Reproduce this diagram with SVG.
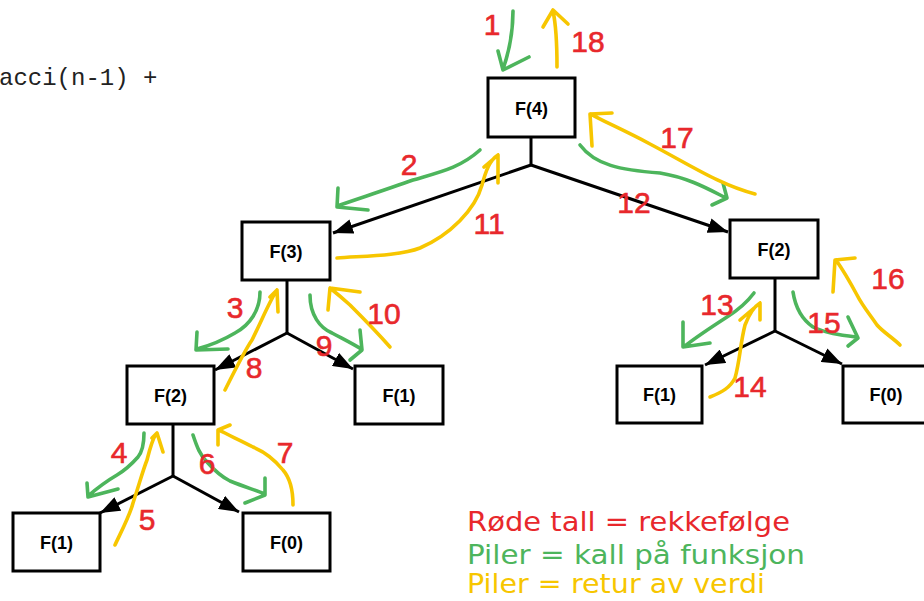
<svg xmlns="http://www.w3.org/2000/svg" width="924" height="601" viewBox="0 0 924 601">
  <style>
    .box { fill: #fff; stroke: #000; stroke-width: 3; }
    .lbl { font-family: "Liberation Sans", Arial, sans-serif; font-weight: bold; font-size: 18px; text-anchor: middle; fill: #000; }
    .edge { stroke: #000; stroke-width: 3; fill: none; }
    .call { stroke: #4db55c; stroke-width: 3.6; fill: none; stroke-linecap: round; stroke-linejoin: round; }
    .ret { stroke: #f7c600; stroke-width: 3.6; fill: none; stroke-linecap: round; stroke-linejoin: round; }
    .num { font-family: "Liberation Sans", Arial, sans-serif; font-size: 30px; fill: #e8282c; stroke: #e8282c; stroke-width: 0.6; text-anchor: middle; }
    .leg { font-family: "DejaVu Sans", Verdana, sans-serif; font-size: 27px; }
    .code { font-family: "Liberation Mono", "Courier New", monospace; font-size: 24px; fill: #222; }
  </style>
  <defs>
    <marker id="ah" viewBox="0 0 20 15" refX="20" refY="7.5" markerWidth="20" markerHeight="15" markerUnits="userSpaceOnUse" orient="auto">
      <path d="M0,0 L20,7.5 L0,15 z" fill="#000"/>
    </marker>
  </defs>

  <rect width="924" height="601" fill="#fff"/>

  <!-- code fragment -->
  <text class="code" x="-1" y="85">acci(n-1) +</text>

  <!-- tree edges -->
  <g id="edges">
    <path class="edge" d="M531,137 V165"/>
    <path class="edge" d="M531,165 L333,233" marker-end="url(#ah)"/>
    <path class="edge" d="M531,165 L728,232" marker-end="url(#ah)"/>
    <path class="edge" d="M287,280 V333"/>
    <path class="edge" d="M287,333 L215,370" marker-end="url(#ah)"/>
    <path class="edge" d="M287,333 L353,369" marker-end="url(#ah)"/>
    <path class="edge" d="M173,424 V476"/>
    <path class="edge" d="M173,476 L100,513" marker-end="url(#ah)"/>
    <path class="edge" d="M173,476 L239,512" marker-end="url(#ah)"/>
    <path class="edge" d="M775,278 V331"/>
    <path class="edge" d="M775,331 L705,365" marker-end="url(#ah)"/>
    <path class="edge" d="M775,331 L842,364" marker-end="url(#ah)"/>
  </g>

  <!-- nodes -->
  <g id="f4"><rect class="box" x="488" y="78" width="87" height="59"/><text class="lbl" x="531.5" y="115">F(4)</text></g>
  <g id="f3"><rect class="box" x="242" y="222" width="88" height="58"/><text class="lbl" x="286" y="258">F(3)</text></g>
  <g id="f2r"><rect class="box" x="730" y="220" width="88" height="58"/><text class="lbl" x="774" y="256">F(2)</text></g>
  <g id="f2l"><rect class="box" x="127" y="366" width="87" height="58"/><text class="lbl" x="170.5" y="402">F(2)</text></g>
  <g id="f1m"><rect class="box" x="355" y="366" width="88" height="58"/><text class="lbl" x="399" y="402">F(1)</text></g>
  <g id="f1r"><rect class="box" x="617" y="366" width="85" height="57"/><text class="lbl" x="659.5" y="401">F(1)</text></g>
  <g id="f0r"><rect class="box" x="843" y="366" width="88" height="57"/><text class="lbl" x="886" y="401">F(0)</text></g>
  <g id="f1l"><rect class="box" x="13" y="513" width="87" height="58"/><text class="lbl" x="56.5" y="549">F(1)</text></g>
  <g id="f0l"><rect class="box" x="243" y="513" width="87" height="58"/><text class="lbl" x="286.5" y="549">F(0)</text></g>

  <!-- call arrows (green) -->
  <g id="calls">
    <path class="call" d="M513,11 C513,35 509,52 503,69 M498,51 L503,70 L529,57"/>
    <path class="call" d="M480,150 C460,168 440,172 413,180 C385,190 360,198 337,206 M338,188 L337,207 L368,210"/>
    <path class="call" d="M260,292 C260,310 250,325 235,333 C220,342 208,346 197,349 M197,332 L196,350 L228,349"/>
    <path class="call" d="M144,433 C144,445 142,452 138,457 C130,466 122,472 117,475 C105,482 95,490 88,496 M87,483 L88,497 L118,489"/>
    <path class="call" d="M193,435 C197,447 200,455 207,462 C214,470 220,476 230,481 C245,487 255,490 265,494 M265,478 L265,495 L245,503"/>
    <path class="call" d="M310,295 C310,315 320,328 332,333 C345,340 355,345 361,349 M360,330 L362,350 L350,360"/>
    <path class="call" d="M580,145 C595,165 620,170 660,173 C690,178 710,190 726,198 M723,183 L727,198 L712,205"/>
    <path class="call" d="M754,293 C745,305 735,312 727,317 C710,328 695,338 685,346 M683,322 L683,347 L710,343"/>
    <path class="call" d="M793,292 C795,305 800,318 813,327 C825,333 840,335 856,337 M848,317 L858,338 L848,346"/>
  </g>

  <!-- return arrows (yellow) -->
  <g id="returns">
    <path class="ret" d="M557,67 C557,45 556,25 553,11 M543,27 L553,10 L568,24"/>
    <path class="ret" d="M755,194 C720,185 690,165 650,144 C620,128 600,120 591,114 M592,146 L590,114 L612,113"/>
    <path class="ret" d="M337,258 C360,256 400,256 420,248 C450,235 475,210 482,185 C486,170 490,160 498,155 M484,167 L498,155 L498,183"/>
    <path class="ret" d="M225,390 C235,370 245,350 252,340 C262,320 270,300 277,290 M270,297 L277,290 L278,312"/>
    <path class="ret" d="M390,347 C375,330 360,315 350,305 C340,296 335,292 330,288 M328,310 L330,288 L360,292"/>
    <path class="ret" d="M115,545 C122,530 130,515 133,503 C139,485 143,470 147,460 C150,448 152,440 156,434 M152,438 L157,433 L163,452"/>
    <path class="ret" d="M293,505 C293,490 290,478 283,470 C275,460 265,452 253,447 C240,440 228,435 219,430 M218,445 L218,430 L230,425"/>
    <path class="ret" d="M710,397 C722,392 730,388 735,378 C740,360 740,345 745,325 C750,312 755,306 760,303 M740,320 L760,303 L760,320"/>
    <path class="ret" d="M900,345 C893,338 883,332 877,325 C868,312 862,305 857,295 C850,282 843,270 836,260 M833,292 L835,260 L855,258"/>
  </g>

  <!-- order numbers -->
  <g id="order">
    <text class="num" x="492" y="35">1</text>
    <text class="num" x="409" y="175">2</text>
    <text class="num" x="235" y="318">3</text>
    <text class="num" x="119" y="463">4</text>
    <text class="num" x="147" y="530">5</text>
    <text class="num" x="207" y="474">6</text>
    <text class="num" x="285" y="463">7</text>
    <text class="num" x="254" y="378">8</text>
    <text class="num" x="324" y="356">9</text>
    <text class="num" x="384" y="324">10</text>
    <text class="num" x="489" y="234">11</text>
    <text class="num" x="634" y="213">12</text>
    <text class="num" x="717" y="315">13</text>
    <text class="num" x="750" y="397">14</text>
    <text class="num" x="824" y="333">15</text>
    <text class="num" x="888" y="289">16</text>
    <text class="num" x="677" y="148">17</text>
    <text class="num" x="588" y="52">18</text>
  </g>

  <!-- legend -->
  <g id="legend">
    <text class="leg" x="467" y="531" fill="#e8282c" textLength="323" lengthAdjust="spacingAndGlyphs">Røde tall = rekkefølge</text>
    <text class="leg" x="467" y="564" fill="#4db55c" textLength="338" lengthAdjust="spacingAndGlyphs">Piler = kall på funksjon</text>
    <text class="leg" x="467" y="593" fill="#f7c600" textLength="298" lengthAdjust="spacingAndGlyphs">Piler = retur av verdi</text>
  </g>
</svg>
